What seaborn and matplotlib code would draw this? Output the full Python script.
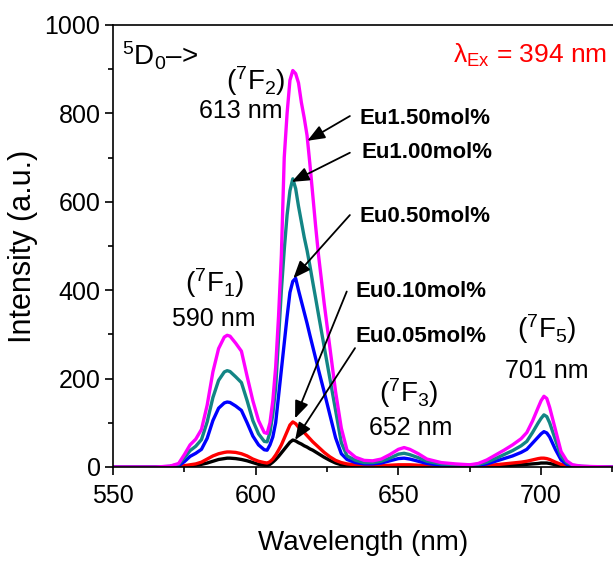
import numpy as np
import pandas as pd
import matplotlib
matplotlib.use("Agg")
import matplotlib.pyplot as plt
from matplotlib.ticker import MultipleLocator
import seaborn as sns

# ---------------- data ----------------
wavelength = [550, 560, 565, 570, 573, 575, 577, 579, 581, 583,
              585, 587, 589, 590, 591, 593, 595, 597, 599, 601,
              603, 604, 605, 606, 607, 608, 609, 610, 611, 612,
              613, 614, 615, 616, 617, 618, 619, 620, 621, 622,
              624, 626, 628, 630, 632, 635, 638, 641, 644, 647,
              650, 652, 654, 657, 660, 665, 670, 675, 678, 681,
              684, 687, 690, 693, 695, 697, 699, 700, 701, 702,
              703, 705, 707, 709, 711, 714, 718, 725]

eu150 = [0, 0, 0, 2, 8, 28, 50, 63, 85, 140,
         215, 268, 294, 298, 296, 280, 262, 205, 150, 105,
         78, 76, 100, 150, 226, 340, 480, 700, 800, 875,
         897, 890, 869, 825, 790, 750, 685, 615, 545, 480,
         370, 270, 170, 88, 38, 22, 15, 14, 18, 28,
         40, 44, 40, 30, 18, 10, 7, 5, 8, 16,
         27, 38, 50, 64, 78, 104, 135, 150, 160, 155,
         135, 85, 35, 14, 5, 2, 1, 0]

eu100 = [0, 0, 0, 1.5, 6, 21, 37, 47, 62, 102,
         157, 196, 215, 218, 216, 204, 191, 150, 105, 75,
         58, 57, 78, 120, 180, 290, 400, 491, 570, 625,
         652, 630, 590, 555, 520, 490, 455, 418, 382, 345,
         272, 200, 128, 55, 25, 15, 10, 10, 13, 20,
         29, 31, 28, 21, 13, 7, 5, 4, 6, 11,
         19, 28, 37, 48, 58, 78, 100, 110, 118, 114,
         100, 62, 25, 10, 4, 1.5, 0.5, 0]

eu050 = [0, 0, 0, 1, 3, 12, 24, 31, 40, 65,
         105, 133, 145, 147, 146, 138, 128, 100, 70, 50,
         39, 38, 50, 68, 100, 160, 220, 280, 340, 395,
         420, 427, 400, 375, 350, 325, 298, 272, 246, 220,
         170, 118, 66, 30, 17, 10, 7, 7, 9, 14,
         19, 20, 18, 13, 8, 4, 3, 2, 4, 7,
         13, 19, 25, 33, 40, 54, 68, 75, 80, 77,
         68, 40, 16, 6, 2, 1, 0, 0]

eu010 = [0, 0, 0, 0.5, 1.5, 3, 5, 7, 11, 18,
         25, 30, 33, 34, 34, 33, 30, 25, 18, 13,
         10, 9, 12, 18, 27, 38, 50, 65, 80, 95,
         102, 98, 90, 84, 78, 71, 64, 57, 51, 45,
         33, 23, 15, 10, 7, 5, 4, 3, 3, 4,
         5, 5, 5, 4, 3, 2, 2, 2, 3, 4,
         5, 7, 9, 11, 13, 16, 19, 20, 20, 19,
         17, 11, 6, 3, 1, 0.5, 0, 0]

eu005 = [0, 0, 0, 0, 0.5, 1, 2, 4, 6, 9,
         13, 17, 19, 20, 20, 19, 17, 14, 10, 6,
         4, 3, 6, 11, 17, 24, 32, 40, 48, 56,
         61, 59, 55, 52, 48, 45, 41, 38, 34, 30,
         22, 15, 9, 5, 3, 2, 1.5, 1, 1, 1.5,
         2, 2, 2, 1.5, 1, 1, 1, 1, 1.5, 2,
         2.5, 3, 4, 5, 6, 7, 8, 9, 9, 9,
         8, 5, 3, 1.5, 0.5, 0, 0, 0]

series_names = ["Eu0.05mol%", "Eu0.10mol%", "Eu0.50mol%", "Eu1.00mol%", "Eu1.50mol%"]
series_values = [eu005, eu010, eu050, eu100, eu150]
series_colors = ["#000000", "#FF0000", "#0000FF", "#138585", "#FF00FF"]

x_ticks = [550, 600, 650, 700]
y_ticks = [0, 200, 400, 600, 800, 1000]

frames = []
for name, vals in zip(series_names, series_values):
    frames.append(pd.DataFrame({"Wavelength": wavelength, "Intensity": vals, "Sample": name}))
df = pd.concat(frames, ignore_index=True)

# ---------------- style ----------------
sns.set_style("ticks")
plt.rcParams["font.family"] = ["Liberation Sans", "DejaVu Sans"]
plt.rcParams["mathtext.fontset"] = "custom"
plt.rcParams["mathtext.rm"] = "Liberation Sans"
plt.rcParams["mathtext.it"] = "Liberation Sans:italic"
plt.rcParams["mathtext.bf"] = "Liberation Sans:bold"
for key in ["text.color", "axes.labelcolor", "xtick.color", "ytick.color", "axes.edgecolor"]:
    plt.rcParams[key] = "black"

fig = plt.figure(figsize=(6.13, 5.61), dpi=100)
ax = fig.add_axes([113 / 613, 1 - 467 / 561, 1 - 113 / 613, (467 - 25) / 561])

sns.lineplot(data=df, x="Wavelength", y="Intensity", hue="Sample",
             hue_order=series_names, palette=series_colors, linewidth=2.4,
             legend=False, ax=ax, estimator=None, sort=False)

ax.set_xlim(550, 725.2)
ax.set_ylim(0, 1000)
ax.set_xticks(x_ticks)
ax.set_yticks(y_ticks)
ax.xaxis.set_minor_locator(MultipleLocator(25))
ax.yaxis.set_minor_locator(MultipleLocator(100))
ax.tick_params(which="major", direction="out", length=6, width=1.2, labelsize=18)
ax.tick_params(axis="x", which="major", pad=6)
ax.tick_params(axis="y", which="major", pad=3)
ax.tick_params(which="minor", direction="out", length=3.5, width=1.2)
for s in ["left", "bottom", "top"]:
    ax.spines[s].set_visible(True)
    ax.spines[s].set_linewidth(1.2)
ax.spines["right"].set_visible(False)

ax.set_xlabel("Wavelength (nm)", fontsize=20, labelpad=16)
ax.set_ylabel("Intensity (a.u.)", fontsize=22, labelpad=5)

# ---------------- annotations ----------------
ax.text(553.2, 909, r"$^{5}$D$_{0}$–>", fontsize=20, ha="left", va="baseline")
ax.text(669.0, 914, r"λ$_{\mathrm{Ex}}$ = 394 nm", fontsize=19, color="#FF0000",
        ha="left", va="baseline")

ax.text(599.9, 853, r"($^{7}$F$_{2}$)", fontsize=20, ha="center", va="baseline")
ax.text(594.7, 790, "613 nm", fontsize=18, ha="center", va="baseline")
ax.text(585.7, 396, r"($^{7}$F$_{1}$)", fontsize=20, ha="center", va="baseline")
ax.text(585.4, 319, "590 nm", fontsize=18, ha="center", va="baseline")
ax.text(653.7, 147, r"($^{7}$F$_{3}$)", fontsize=20, ha="center", va="baseline")
ax.text(654.2, 72, "652 nm", fontsize=18, ha="center", va="baseline")
ax.text(702.1, 292, r"($^{7}$F$_{5}$)", fontsize=20, ha="center", va="baseline")
ax.text(701.9, 201, "701 nm", fontsize=18, ha="center", va="baseline")

labels = [("Eu1.50mol%", 636.5, 776, (633.0, 794), (618.1, 738)),
          ("Eu1.00mol%", 636.9, 699, (633.0, 711), (612.6, 645)),
          ("Eu0.50mol%", 636.2, 554, (633.0, 570), (613.2, 427)),
          ("Eu0.10mol%", 635.1, 385, (631.9, 397), (613.8, 110)),
          ("Eu0.05mol%", 635.1, 283, (634.8, 269), (613.8, 61))]
for text, tx, ty, tail, head in labels:
    ax.text(tx, ty, text, fontsize=16, fontweight="bold", ha="left", va="baseline")
    ax.annotate("", xy=head, xytext=tail,
                arrowprops=dict(arrowstyle="-|>,head_length=0.7,head_width=0.28",
                                color="black", lw=1.3, mutation_scale=15,
                                shrinkA=0, shrinkB=0))

fig.savefig("out.png", dpi=100)
